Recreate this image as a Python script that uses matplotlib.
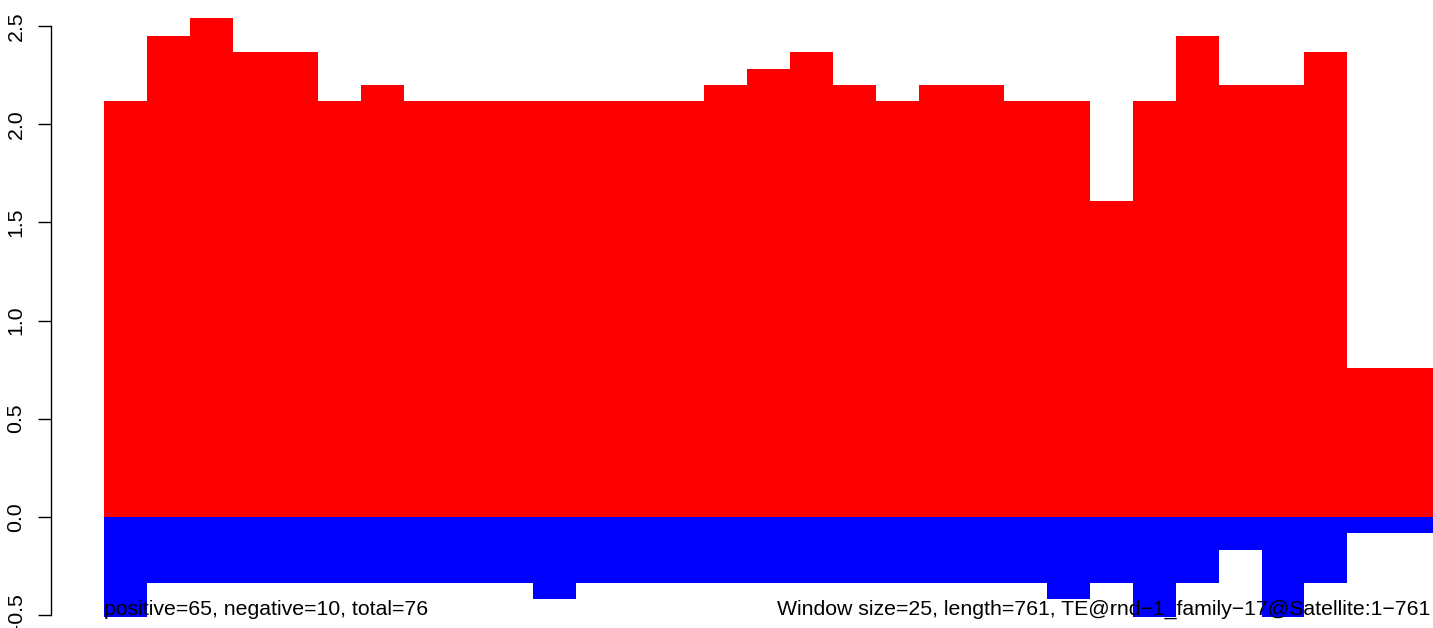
import matplotlib
matplotlib.use("Agg")
import matplotlib.pyplot as plt
import matplotlib.transforms as mtransforms
import numpy as np

plt.rcParams['font.family'] = ['Liberation Sans', 'DejaVu Sans']

# window index (31 windows of size 25 over length 761)
windows = list(range(1, 32))
positive_scores = [2.12, 2.45, 2.54, 2.37, 2.37, 2.12, 2.20, 2.12, 2.12, 2.12,
                   2.12, 2.12, 2.12, 2.12, 2.20, 2.28, 2.37, 2.20, 2.12, 2.20,
                   2.20, 2.12, 2.12, 1.61, 2.12, 2.45, 2.20, 2.20, 2.37, 0.76,
                   0.76]
negative_scores = [-0.51, -0.34, -0.34, -0.34, -0.34, -0.34, -0.34, -0.34, -0.34, -0.34,
                   -0.42, -0.34, -0.34, -0.34, -0.34, -0.34, -0.34, -0.34, -0.34, -0.34,
                   -0.34, -0.34, -0.42, -0.34, -0.51, -0.34, -0.17, -0.51, -0.34, -0.085,
                   -0.085]
ytick_values = [-0.5, 0.0, 0.5, 1.0, 1.5, 2.0, 2.5]
ytick_labels = ["-0.5", "0.0", "0.5", "1.0", "1.5", "2.0", "2.5"]
left_caption = "positive=65, negative=10, total=76"
right_caption = "Window size=25, length=761, TE@rnd\u22121_family\u221217@Satellite:1\u2212761"

W, H = 1433, 628
fig = plt.figure(figsize=(W / 100, H / 100), dpi=100)
ax = fig.add_axes([104 / W, 0, (W - 104) / W, 1])

x0 = np.array(windows) - 1
ax.bar(x0, positive_scores, width=1.0, align='edge', color='#FF0000', linewidth=0)
ax.bar(x0, negative_scores, width=1.0, align='edge', color='#0000FF', linewidth=0)

ax.set_xlim(0, len(windows))
ax.set_ylim(-0.567, 2.634)

for s in ['top', 'right', 'bottom']:
    ax.spines[s].set_visible(False)
ax.spines['left'].set_position(('outward', 53 * 0.72))
ax.spines['left'].set_bounds(-0.5, 2.5)
ax.spines['left'].set_linewidth(1.0)
ax.set_xticks([])
ax.set_yticks(ytick_values)
ax.set_yticklabels(ytick_labels, rotation=90, va='center', fontsize=15.3)
ax.tick_params(axis='y', length=13 * 0.72, width=1.0, pad=9)

# nudge the lowest label slightly upward, as in the reference
lowest = ax.get_yticklabels()[0]
lowest.set_transform(lowest.get_transform() +
                     mtransforms.ScaledTranslation(0, 3 / 100, fig.dpi_scale_trans))

fig.text(104 / W, (H - 615) / H, left_caption, ha='left', va='baseline', fontsize=15.3)
fig.text(1430 / W, (H - 615) / H, right_caption, ha='right', va='baseline', fontsize=15.3)

fig.savefig("out.png", dpi=100)
